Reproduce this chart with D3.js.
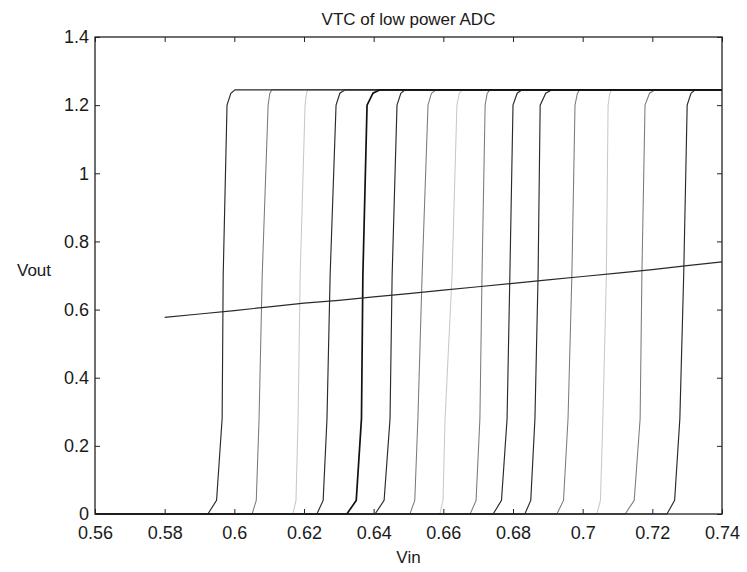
<!DOCTYPE html>
<html>
<head>
<meta charset="utf-8">
<script src="https://cdn.jsdelivr.net/npm/d3@7"></script>
<style>
  body { margin: 0; background: #fff; }
  text { font-family: "Liberation Sans", Arial, Helvetica, sans-serif; fill: #1a1a1a; }
</style>
</head>
<body>
<div id="chart"></div>
<script>

// Vout levels shared by every transition curve (the Vin values below are read at these levels)
var voutLevels = [0, 0.04, 0.28, 0.7, 1.2, 1.235, 1.245];

// Vin at each of the levels above, one row per comparator curve
var curveVin = [
    [0.5924, 0.5949, 0.5965, 0.5968, 0.5979, 0.5990, 0.6002],
    [0.6051, 0.6063, 0.6071, 0.6080, 0.6097, 0.6102, 0.6108],
    [0.6168, 0.6177, 0.6183, 0.6189, 0.6203, 0.6207, 0.6211],
    [0.6237, 0.6255, 0.6266, 0.6275, 0.6292, 0.6303, 0.6318],
    [0.6323, 0.6350, 0.6365, 0.6369, 0.6381, 0.6398, 0.6418],
    [0.6404, 0.6430, 0.6447, 0.6453, 0.6467, 0.6478, 0.6490],
    [0.6504, 0.6518, 0.6527, 0.6539, 0.6556, 0.6566, 0.6579],
    [0.6590, 0.6599, 0.6605, 0.6625, 0.6639, 0.6646, 0.6654],
    [0.6677, 0.6694, 0.6705, 0.6711, 0.6720, 0.6726, 0.6734],
    [0.6743, 0.6767, 0.6783, 0.6791, 0.6800, 0.6812, 0.6826],
    [0.6834, 0.6851, 0.6863, 0.6872, 0.6878, 0.6894, 0.6912],
    [0.6926, 0.6945, 0.6958, 0.6969, 0.6978, 0.6985, 0.6992],
    [0.7041, 0.7051, 0.7058, 0.7068, 0.7073, 0.7078, 0.7084],
    [0.7122, 0.7148, 0.7165, 0.7170, 0.7179, 0.7192, 0.7208],
    [0.7242, 0.7264, 0.7279, 0.7290, 0.7300, 0.7311, 0.7323]
];

// how dark each curve came out in the scan
var curveShade = ["dark", "mid", "faint", "dark", "black", "dark", "mid", "faint",
                  "mid", "dark", "dark", "mid", "faint", "mid", "dark"];

// the reference (Vin, Vout) line
var refVin  = [0.58, 0.59, 0.60, 0.61, 0.62, 0.63, 0.64, 0.65, 0.66, 0.67, 0.68, 0.69, 0.70, 0.71, 0.72, 0.73, 0.74];
var refVout = [0.577, 0.587, 0.597, 0.608, 0.619, 0.627, 0.637, 0.647, 0.657, 0.667, 0.677, 0.687, 0.697, 0.707, 0.717, 0.729, 0.740];

var xTicks = [0.56, 0.58, 0.6, 0.62, 0.64, 0.66, 0.68, 0.7, 0.72, 0.74];
var yTicks = [0, 0.2, 0.4, 0.6, 0.8, 1, 1.2, 1.4];

var vinStart = 0.56, vinEnd = 0.74, voutHigh = 1.245;

var margin = {top: 37, right: 25, bottom: 58, left: 95};
var width = 747 - margin.left - margin.right,
    height = 572 - margin.top - margin.bottom;

var svg = d3.select("#chart").append("svg")
    .attr("width", 747)
    .attr("height", 572);

var g = svg.append("g")
    .attr("transform", "translate(" + margin.left + "," + margin.top + ")");

var x = d3.scaleLinear().domain([0.56, 0.74]).range([0, width]);
var y = d3.scaleLinear().domain([0, 1.4]).range([height, 0]);

var shadeStyle = {
    black: {stroke: "#111", w: 1.7},
    dark:  {stroke: "#2a2a2a", w: 1.15},
    mid:   {stroke: "#7a7a7a", w: 1.05},
    faint: {stroke: "#c8c8c8", w: 1.05}
};

var line = d3.line()
    .x(function(d) { return x(d[0]); })
    .y(function(d) { return y(d[1]); });

var curves = curveVin.map(function(row, i) {
    var pts = [[vinStart, 0]];
    row.forEach(function(v, j) { pts.push([v, voutLevels[j]]); });
    pts.push([vinEnd, voutHigh]);
    return {pts: pts, shade: curveShade[i]};
});

// draw faint first so the dark traces sit on top
var order = {faint: 0, mid: 1, dark: 2, black: 3};
curves.sort(function(a, b) { return order[a.shade] - order[b.shade]; });

g.selectAll(".vtc")
    .data(curves)
    .enter()
    .append("path")
    .attr("class", "vtc")
    .attr("fill", "none")
    .attr("stroke", function(d) { return shadeStyle[d.shade].stroke; })
    .attr("stroke-width", function(d) { return shadeStyle[d.shade].w; })
    .attr("d", function(d) { return line(d.pts); });

g.append("path")
    .datum(refVin.map(function(v, i) { return [v, refVout[i]]; }))
    .attr("fill", "none")
    .attr("stroke", "#2a2a2a")
    .attr("stroke-width", 1.2)
    .attr("d", line);

// axes, matlab style box with inward ticks
var axisStyle = function(sel) {
    sel.select(".domain").remove();
    sel.selectAll(".tick line").attr("stroke", "#222");
    sel.selectAll("text").style("font-size", "18px");
};

g.append("g")
    .attr("transform", "translate(0," + height + ")")
    .call(d3.axisBottom(x).tickValues(xTicks).tickSize(-5).tickPadding(12)
        .tickFormat(function(d) { return String(+d.toFixed(2)); }))
    .call(axisStyle);

g.append("g")
    .call(d3.axisLeft(y).tickValues(yTicks).tickSize(-5).tickPadding(6)
        .tickFormat(function(d) { return String(+d.toFixed(1)); }))
    .call(axisStyle);

g.append("g")
    .call(d3.axisTop(x).tickValues(xTicks).tickSize(-5).tickFormat(""))
    .call(axisStyle);

g.append("g")
    .attr("transform", "translate(" + width + ",0)")
    .call(d3.axisRight(y).tickValues(yTicks).tickSize(-5).tickFormat(""))
    .call(axisStyle);

g.append("rect")
    .attr("width", width)
    .attr("height", height)
    .attr("fill", "none")
    .attr("stroke", "#222")
    .attr("stroke-width", 1.3);

svg.append("text")
    .attr("x", margin.left + width / 2)
    .attr("y", 25)
    .attr("text-anchor", "middle")
    .style("font-size", "17px")
    .text("VTC of low power ADC");

svg.append("text")
    .attr("x", margin.left + width / 2)
    .attr("y", 563)
    .attr("text-anchor", "middle")
    .style("font-size", "17px")
    .text("Vin");

svg.append("text")
    .attr("x", 17)
    .attr("y", 276)
    .style("font-size", "17px")
    .text("Vout");

</script>
</body>
</html>
